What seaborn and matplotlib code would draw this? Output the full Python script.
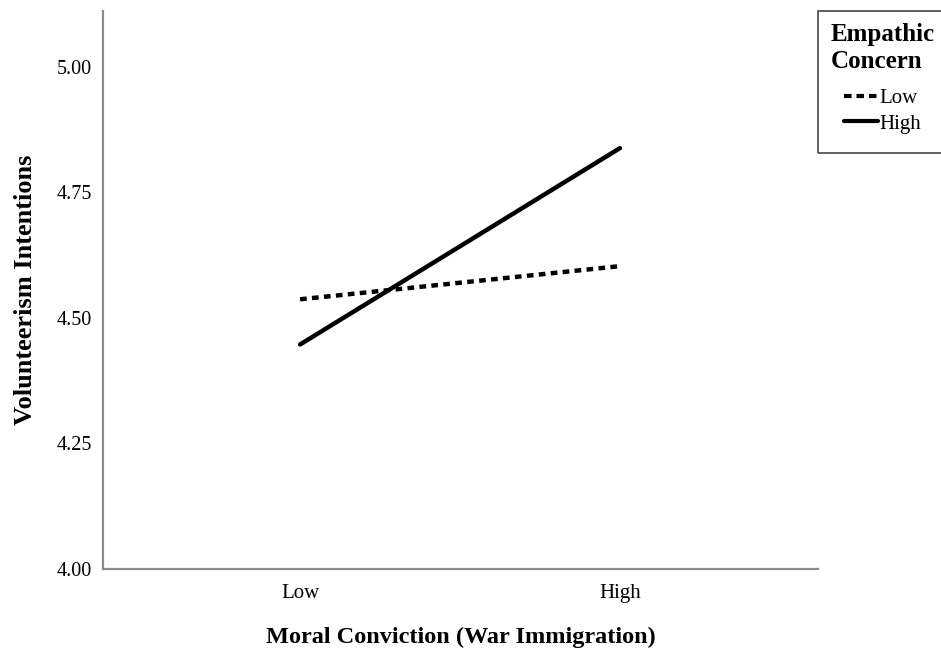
import matplotlib
matplotlib.use("Agg")
import matplotlib.pyplot as plt
from matplotlib.lines import Line2D
from matplotlib.patches import Rectangle
import seaborn as sns
import pandas as pd

# Simple-slopes values: volunteerism intentions by moral conviction level
conviction_levels = ["Low", "High"]
empathy_low = [4.537, 4.603]
empathy_high = [4.447, 4.838]
y_ticks = [4.00, 4.25, 4.50, 4.75, 5.00]

df = pd.DataFrame({
    "Moral Conviction": conviction_levels * 2,
    "Volunteerism": empathy_low + empathy_high,
    "Empathic Concern": ["Low"] * 2 + ["High"] * 2,
})

sns.set_theme(style="white")
plt.rcParams["font.family"] = ["Liberation Serif", "DejaVu Serif"]
plt.rcParams.update({
    "text.color": "black",
    "axes.labelcolor": "black",
    "xtick.color": "black",
    "ytick.color": "black",
})

W, H = 941, 651
fig = plt.figure(figsize=(W / 100, H / 100), dpi=100)
ax = fig.add_axes([103 / W, 1 - 569 / H, 715 / W, 558 / H])

dash_pattern = (1.5, 1.2)
sns.lineplot(
    data=df, x="Moral Conviction", y="Volunteerism",
    hue="Empathic Concern", style="Empathic Concern",
    hue_order=["Low", "High"], style_order=["Low", "High"],
    palette={"Low": "black", "High": "black"},
    dashes={"Low": dash_pattern, "High": ""},
    linewidth=3.2, sort=False, ax=ax, legend=False,
)

ax.set_xlim(-0.616, 1.619)
ax.set_ylim(4.0, 5.111)
ax.set_yticks(y_ticks)
ax.set_yticklabels([f"{t:.2f}" for t in y_ticks], fontsize=14.5)
ax.set_xticks([0, 1])
ax.set_xticklabels(conviction_levels, fontsize=15)
ax.tick_params(axis="y", length=0, pad=8)
ax.tick_params(axis="x", length=0, pad=11)

for side in ["top", "right"]:
    ax.spines[side].set_visible(False)
for side in ["left", "bottom"]:
    ax.spines[side].set_color("#8c8c8c")
    ax.spines[side].set_linewidth(1.6)

ax.set_xlabel("Moral Conviction (War Immigration)", fontsize=17.5,
              fontweight="bold", labelpad=17)
ax.set_ylabel("Volunteerism Intentions", fontsize=19, fontweight="bold")
ax.yaxis.set_label_coords(-(103 - 37) / 715, 0.5)

# Legend box (runs off the right edge of the figure)
fig.patches.append(Rectangle(
    (818 / W, 1 - 153 / H), (950 - 818) / W, (153 - 11) / H,
    transform=fig.transFigure, fill=False, edgecolor="#444444",
    linewidth=1.2, zorder=5,
))

handles = [
    Line2D([], [], color="black", lw=3.0, dashes=(1.8, 1.2)),
    Line2D([], [], color="black", lw=3.0),
]
leg = fig.legend(
    handles, ["Low", "High"], title="Empathic\nConcern",
    loc="upper center", bbox_to_anchor=(883 / W, 1 - 14 / H),
    fontsize=15, title_fontproperties={"weight": "bold", "size": 18},
    frameon=False, handlelength=1.6, handletextpad=0.1,
    labelspacing=0.3, borderpad=0.45, borderaxespad=0,
)
leg._legend_box.align = "center"
leg._legend_box.sep = 11

fig.savefig("out.png", dpi=100)
